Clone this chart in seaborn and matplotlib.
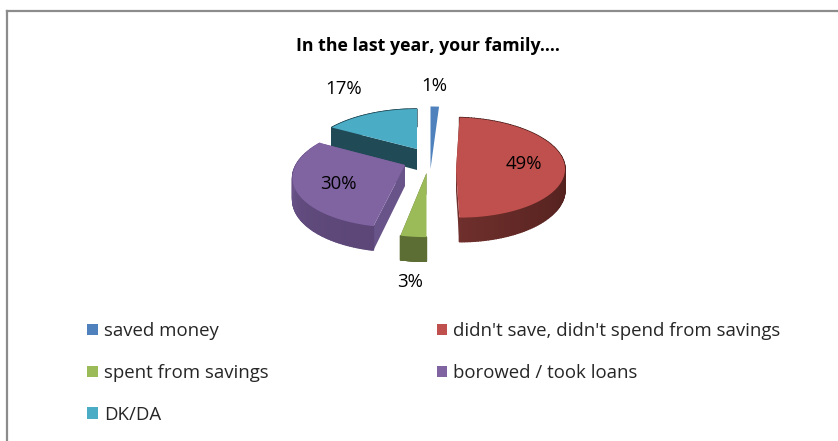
import numpy as np
import matplotlib
matplotlib.use("Agg")
import matplotlib.pyplot as plt
from matplotlib.patches import Patch
from matplotlib.colors import to_rgb
import seaborn as sns

# Survey answers, in drawing order clockwise from twelve o'clock
categories = ["saved money", "didn't save, didn't spend from savings",
              "spent from savings", "borowed / took loans", "DK/DA"]
shares = [1, 49, 3, 30, 17]
title_text = "In the last year, your family...."

sns.set_theme(style="white")
plt.rcParams["font.family"] = ["Open Sans", "DejaVu Sans"]

top_colors = sns.color_palette(["#4F81BD", "#C0504D", "#9BBB59", "#8064A2", "#4BACC6"])
# Rim shading: (colour at the start of the arc, colour at its end)
rim_colors = [("#2f5580", "#2f5580"), ("#4a1d1a", "#6f2f2c"), ("#5d6e35", "#5d6e35"),
              ("#5c4778", "#7d629f"), ("#1f4a56", "#1f4a56")]
cut_colors = ["#2f5580", "#6f2f2c", "#5d6e35", "#69548a", "#1f4a56"]

# Exploded apex of each slice in canvas pixels, foreshortening and lean of its plane
apex = [(430.5, 169), (456, 170), (426.5, 173), (405, 165), (417, 149)]
skew = [-0.2, -0.05, 0.22, 0.2, 0.25]
lean = [0, 0.07, 0, -0.1, 0]
has_sides = [False, True, True, True, True]
rx, ry, depth = 109, 50, 21
label_xy = [(434, 86), (524, 164), (410, 282), (338, 184), (344, 89)]
draw_order = [4, 0, 3, 2, 1]

fig = plt.figure(figsize=(8.38, 4.41), dpi=100)
ax = fig.add_axes([7 / 838, 0, 831 / 838, 430 / 441])
ax.set_xlim(7, 838)
ax.set_ylim(441, 11)
ax.set_xticks([])
ax.set_yticks([])
sns.despine(ax=ax, top=False, right=True, bottom=True)
for side in ("left", "top"):
    ax.spines[side].set_color("#8c8c8c")
    ax.spines[side].set_linewidth(1.6)


def project(theta, i):
    """Map a pie angle (radians, clockwise from the top) onto the tilted plane."""
    scale = 1 / (1 + skew[i] * np.cos(theta))
    y = apex[i][1] - ry * np.cos(theta) * scale
    x = apex[i][0] + rx * np.sin(theta) * scale + lean[i] * (y - apex[i][1])
    drop = depth * (1 - 0.15 * np.cos(theta))
    return x, y, drop


edges = np.radians(np.cumsum([0] + shares) / sum(shares) * 360)

for i in draw_order:
    a0, a1 = edges[i], edges[i + 1]
    theta = np.linspace(a0, a1, 120)
    x, y, drop = project(theta, i)
    px, py = apex[i]
    base = draw_order.index(i) * 3

    if has_sides[i]:
        # Cut faces along the two radial edges
        for j in (0, -1):
            ax.fill([px, x[j], x[j], px], [py, y[j], y[j] + drop[j], py + depth],
                    color=cut_colors[i], lw=0, zorder=base + 1)

        # Outer rim, shaded strip by strip along the arc
        c0, c1 = np.array(to_rgb(rim_colors[i][0])), np.array(to_rgb(rim_colors[i][1]))
        for k in range(len(theta) - 1):
            t = (k / (len(theta) - 2)) ** 2
            ax.fill([x[k], x[k + 1], x[k + 1], x[k]],
                    [y[k], y[k + 1], y[k + 1] + drop[k + 1], y[k] + drop[k]],
                    color=tuple(c0 + (c1 - c0) * t), lw=1.0, zorder=base + 2)

    # Top surface
    ax.fill(np.r_[px, x], np.r_[py, y], color=top_colors[i], lw=0, zorder=base + 3)

for i, v in enumerate(shares):
    ax.text(label_xy[i][0], label_xy[i][1], f"{v}%", ha="center", va="center",
            fontsize=13.4, color="black", zorder=30)

ax.text(428, 46, title_text, ha="center", va="center", fontsize=12.8,
        fontweight="bold", color="black")

# Two-column legend, filled row by row on the canvas
legend_order = [0, 2, 4, 1, 3]
handles = [Patch(facecolor=top_colors[i], edgecolor="none") for i in legend_order]
labels = [categories[i] for i in legend_order]
ax.legend(handles, labels, ncol=2, frameon=False, loc="upper left",
          bbox_to_anchor=(87 / 838, 1 - 322 / 441), bbox_transform=fig.transFigure,
          fontsize=13.45, handlelength=0.58, handleheight=0.58, handletextpad=0.32,
          labelspacing=1.28, columnspacing=9.0, borderpad=0, borderaxespad=0)

fig.savefig("out.png", dpi=100, facecolor="white")
